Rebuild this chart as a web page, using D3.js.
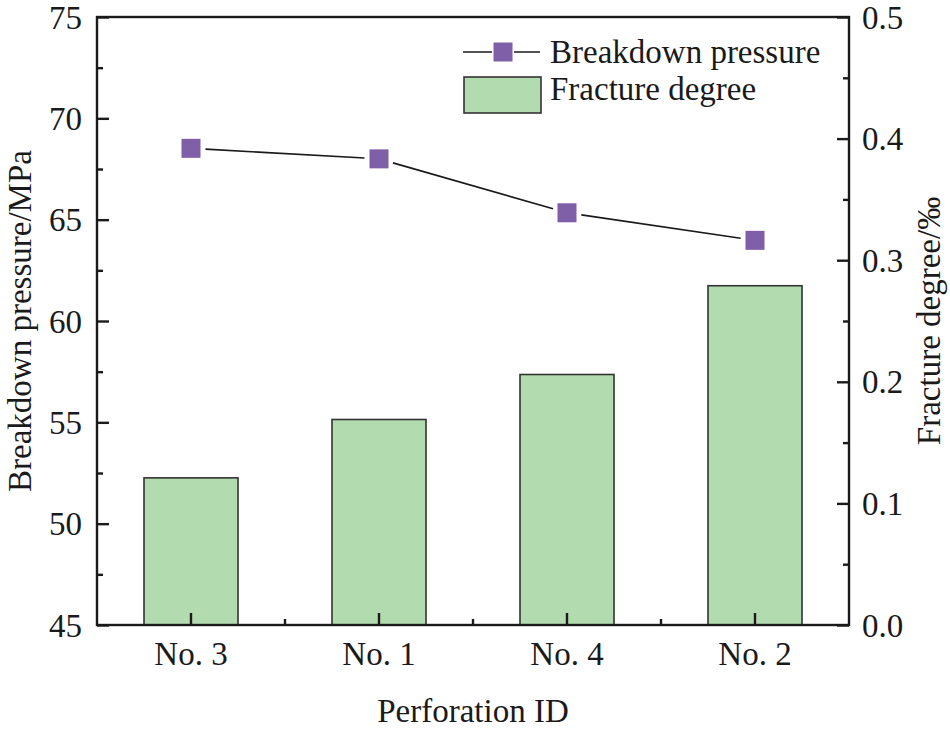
<!DOCTYPE html>
<html><head><meta charset="utf-8">
<script src="https://cdn.jsdelivr.net/npm/d3@7"></script>
<style>body{margin:0;background:#fff}svg{display:block}svg text{font-family:"Times New Roman",Times,Tinos,"Liberation Serif","DejaVu Serif","Noto Serif",serif}</style>
</head><body><svg id="c" width="950" height="730"></svg>
<script>
const categories = ["No. 3", "No. 1", "No. 4", "No. 2"];
const breakdownPressure = [68.52, 68.0, 65.34, 63.98];
const fractureDegree = [0.121, 0.169, 0.206, 0.279];
const leftTicks = [45, 50, 55, 60, 65, 70, 75];
const rightTicks = [0.0, 0.1, 0.2, 0.3, 0.4, 0.5];

const svg = d3.select("#c");
const m = {l: 97, r: 849, t: 17, b: 625};
const fs = 33;
const tc = "#1a1a1a";
const x = d3.scaleBand().domain(categories).range([m.l, m.r]).paddingInner(0.5).paddingOuter(0.25);
const yL = d3.scaleLinear().domain([45, 75]).range([m.b, m.t]);
const yR = d3.scaleLinear().domain([0, 0.5]).range([m.b, m.t]);

// bars
svg.append("g").selectAll("rect").data(categories).join("rect")
  .attr("x", d => x(d)).attr("width", x.bandwidth())
  .attr("y", (d, i) => yR(fractureDegree[i]))
  .attr("height", (d, i) => m.b - yR(fractureDegree[i]))
  .attr("fill", "#b2dbb0").attr("stroke", "#333").attr("stroke-width", 1.6);

// line with gaps
const pts = categories.map((c, i) => [x(c) + x.bandwidth() / 2, yL(breakdownPressure[i])]);
const gap = 14.5;
for (let i = 0; i < pts.length - 1; i++) {
  const [x1, y1] = pts[i], [x2, y2] = pts[i + 1];
  const len = Math.hypot(x2 - x1, y2 - y1), ux = (x2 - x1) / len, uy = (y2 - y1) / len;
  svg.append("line").attr("x1", x1 + ux * gap).attr("y1", y1 + uy * gap)
    .attr("x2", x2 - ux * gap).attr("y2", y2 - uy * gap)
    .attr("stroke", tc).attr("stroke-width", 1.6);
}
const ms = 19;
svg.append("g").selectAll("rect").data(pts).join("rect")
  .attr("x", d => d[0] - ms / 2).attr("y", d => d[1] - ms / 2)
  .attr("width", ms).attr("height", ms).attr("fill", "#7f5fa8");

// axes
const ax = svg.append("g").attr("stroke", tc).attr("stroke-width", 2.4).attr("fill", "none");
ax.append("rect").attr("x", m.l).attr("y", m.t).attr("width", m.r - m.l).attr("height", m.b - m.t);

function styleTicks(g) { g.select(".domain").remove(); g.selectAll("line").attr("stroke", tc).attr("stroke-width", 2.4); }
svg.append("g").attr("transform", `translate(${m.l},0)`)
  .call(d3.axisRight(yL).tickValues(leftTicks).tickSize(12).tickFormat("")).call(styleTicks);
svg.append("g").attr("transform", `translate(${m.l},0)`)
  .call(d3.axisRight(yL).tickValues(leftTicks.slice(0, -1).map(v => v + 2.5)).tickSize(6).tickFormat("")).call(styleTicks);
svg.append("g").selectAll("text").data(leftTicks).join("text")
  .attr("x", 82).attr("y", d => yL(d)).attr("dy", "0.35em").attr("text-anchor", "end")
  .attr("font-size", 33).attr("fill", tc).text(d => d);

svg.append("g").attr("transform", `translate(${m.r},0)`)
  .call(d3.axisLeft(yR).tickValues(rightTicks).tickSize(12).tickFormat("")).call(styleTicks);
svg.append("g").attr("transform", `translate(${m.r},0)`)
  .call(d3.axisLeft(yR).tickValues(rightTicks.slice(0, -1).map(v => v + 0.05)).tickSize(6).tickFormat("")).call(styleTicks);
svg.append("g").selectAll("text").data(rightTicks).join("text")
  .attr("x", 862).attr("y", d => yR(d)).attr("dy", "0.35em").attr("text-anchor", "start")
  .attr("font-size", 33).attr("fill", tc).text(d => d.toFixed(1));

svg.append("g").attr("transform", `translate(0,${m.b})`)
  .call(d3.axisTop(x).tickSize(12).tickFormat("")).call(styleTicks);
const mids = categories.slice(0, -1).map((c, i) => (x(c) + x(categories[i + 1]) + x.bandwidth()) / 2);
svg.append("g").selectAll("line").data(mids).join("line")
  .attr("x1", d => d).attr("x2", d => d).attr("y1", m.b).attr("y2", m.b - 6)
  .attr("stroke", tc).attr("stroke-width", 2.4);
svg.append("g").selectAll("text").data(categories).join("text")
  .attr("x", d => x(d) + x.bandwidth() / 2).attr("y", 665).attr("text-anchor", "middle")
  .attr("font-size", fs).attr("fill", tc).text(d => d);

// titles
svg.append("text").attr("x", 473).attr("y", 722).attr("text-anchor", "middle").attr("font-size", fs).attr("fill", tc).text("Perforation ID");
svg.append("text").attr("transform", `translate(31,321) rotate(-90)`).attr("text-anchor", "middle").attr("font-size", fs).attr("fill", tc).text("Breakdown pressure/MPa");
svg.append("text").attr("transform", `translate(940,321) rotate(-90)`).attr("text-anchor", "middle").attr("font-size", fs).attr("fill", tc).text("Fracture degree/‰");

// legend
const lg = svg.append("g");
lg.append("line").attr("x1", 463).attr("x2", 540).attr("y1", 52).attr("y2", 52).attr("stroke", tc).attr("stroke-width", 1.6);
lg.append("rect").attr("x", 492).attr("y", 52 - 11).attr("width", 22).attr("height", 22).attr("fill", "#fff");
lg.append("rect").attr("x", 503 - 9.5).attr("y", 52 - 9.5).attr("width", 19).attr("height", 19).attr("fill", "#7f5fa8");
lg.append("text").attr("x", 550).attr("y", 63).attr("font-size", fs).attr("fill", tc).text("Breakdown pressure");
lg.append("rect").attr("x", 464).attr("y", 77).attr("width", 77).attr("height", 36).attr("fill", "#b2dbb0").attr("stroke", "#333").attr("stroke-width", 1.6);
lg.append("text").attr("x", 550).attr("y", 100).attr("font-size", fs).attr("fill", tc).text("Fracture degree");
</script></body></html>
